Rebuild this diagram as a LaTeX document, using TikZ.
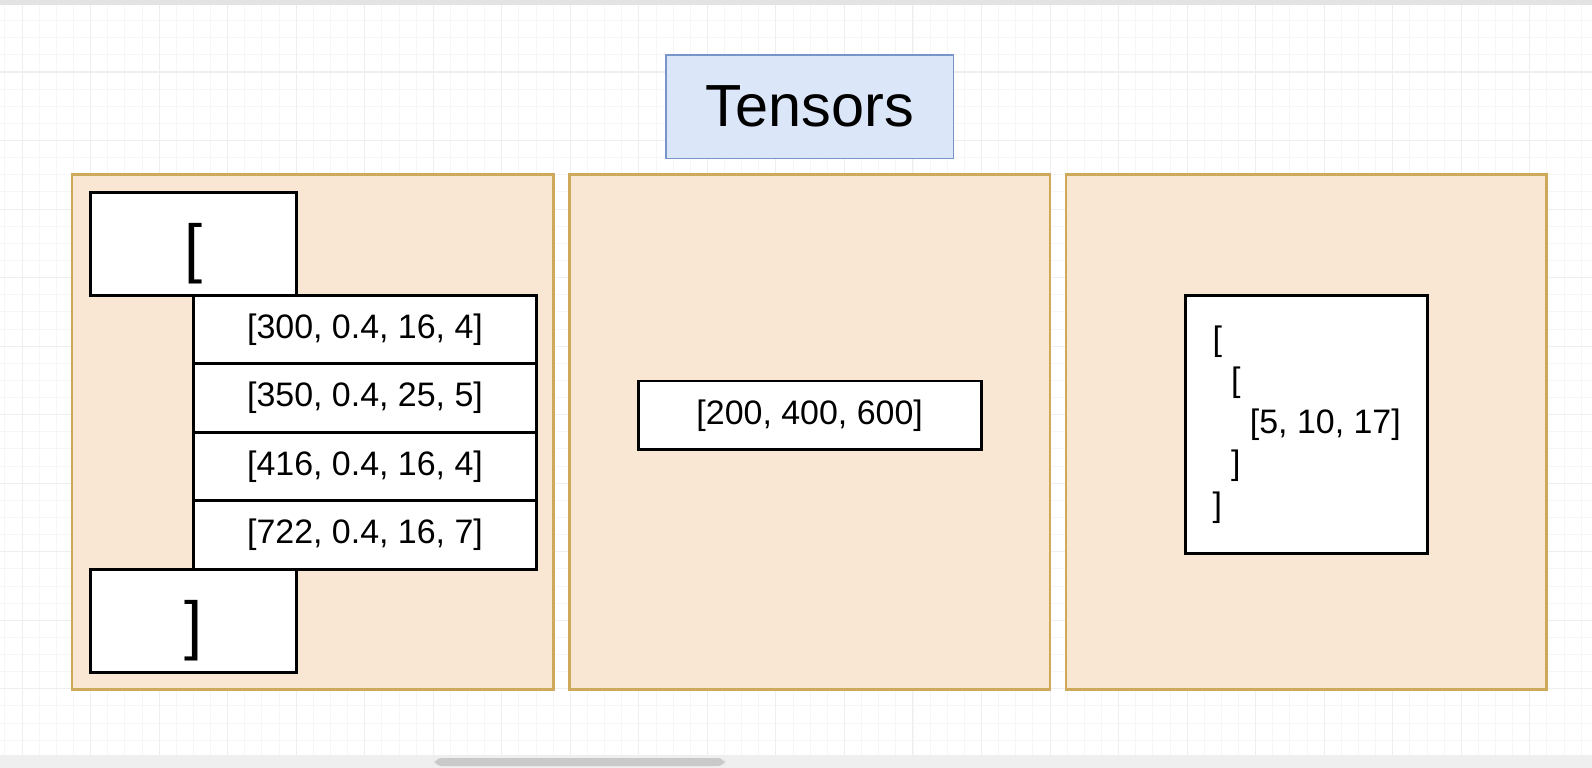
\documentclass[tikz,border=0pt]{standalone}
\usepackage{fontspec}
\setmainfont{Liberation Sans}
\usepackage{tikz}
\usetikzlibrary{positioning}
\definecolor{panelfill}{HTML}{F9E7D3}
\definecolor{panelline}{HTML}{CFA95A}
\definecolor{titlefill}{HTML}{DCE6F9}
\definecolor{titleline}{HTML}{7894C8}
\definecolor{gridminor}{HTML}{F6F6F6}
\definecolor{gridmajor}{HTML}{EEEEEE}
\definecolor{barfill}{HTML}{EFEFEF}
\definecolor{thumbfill}{HTML}{C9C9C9}
\newlength{\px}
\setlength{\px}{0.0203cm}
\tikzset{
	panel/.style={draw=panelline, fill=panelfill, line width=1.5pt},
	cellbox/.style={draw=black, fill=white, line width=1.6pt, outer sep=0pt, inner sep=0pt,
		minimum width=338*\px, minimum height=67.5*\px, font=\fontsize{19.3}{23.6}\selectfont},
	bracebox/.style={draw=black, fill=white, line width=1.6pt, outer sep=0pt, inner sep=0pt,
		minimum width=203*\px, minimum height=101.5*\px, font=\fontsize{37}{40}\selectfont,
		text height=30.5pt, text depth=0pt},
	titlebox/.style={draw=titleline, fill=titlefill, line width=1pt, inner sep=0pt,
		minimum width=283*\px, minimum height=102*\px, font=\fontsize{33.8}{38}\selectfont},
	nestbox/.style={draw=black, fill=white, line width=1.6pt, inner sep=0pt, align=left,
		minimum width=238*\px, minimum height=254*\px, font=\fontsize{19.3}{23.6}\selectfont},
	gridthin/.style={draw=gridminor, line width=0.5pt},
	gridthick/.style={draw=gridmajor, line width=0.6pt}
}
\begin{document}
\begin{tikzpicture}[x=0.0203cm, y=-0.0203cm]
	\useasboundingbox (0,0) rectangle (1568,756.4);
	\fill[white] (0,0) rectangle (1568,756.4);
	\foreach \i in {0,...,92} \draw[gridthin] ({4.8+16.875*\i},0) -- ++(0,756.4);
	\foreach \i in {0,...,44} \draw[gridthin] (0,{3.4+16.875*\i}) -- ++(1568,0);
	\foreach \i in {0,...,23} \draw[gridthick] ({21.7+67.5*\i},0) -- ++(0,756.4);
	\foreach \i in {0,...,11} \draw[gridthick] (0,{3.4+67.5*\i}) -- ++(1568,0);
	\fill[barfill!95!black] (0,0) rectangle (1568,4.5);
	\fill[barfill] (0,743.6) rectangle (1568,756.4);
	\fill[thumbfill, rounded corners=4] (428,746.6) rectangle (714,754.5);

	\node[titlebox] (title) at (797.5,105) {Tensors};

	\draw[panel] (71,172) rectangle (545,679);
	\draw[panel] (561,172) rectangle (1034,679);
	\draw[panel] (1050,172) rectangle (1523,679);

	\node[bracebox] (open) at (190.5,240) {[};
	\node[cellbox, anchor=north west] (row1) at (open.south) {[300, 0.4, 16, 4]};
	\node[cellbox, below=0pt of row1] (row2) {[350, 0.4, 25, 5]};
	\node[cellbox, below=0pt of row2] (row3) {[416, 0.4, 16, 4]};
	\node[cellbox, below=0pt of row3] (row4) {[722, 0.4, 16, 7]};
	\node[bracebox, anchor=north] (close) at (row4.south west) {]};

	\node[cellbox] (vector) at (797.5,409) {[200, 400, 600]};

	\node[nestbox] (nest) at (1287,418) {[\\\hspace*{10.6pt}[\\\hspace*{21.2pt}[5, 10, 17]\\\hspace*{10.6pt}]\\]};
\end{tikzpicture}
\end{document}
